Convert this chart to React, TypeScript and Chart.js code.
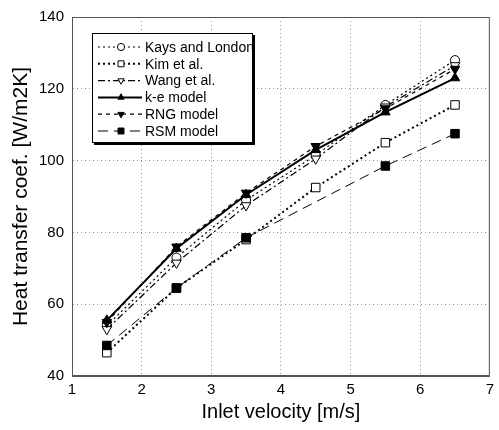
import React, { useEffect, useRef } from 'react';
import { Chart, registerables } from 'chart.js';
import { drawPoint } from 'chart.js/helpers';

Chart.register(...registerables);

const velocities = [1.5, 2.5, 3.5, 4.5, 5.5, 6.5];
const kaysLondon = [54, 73, 89, 101.5, 115.5, 128];
const kimEtAl = [46.5, 64.5, 78, 92.5, 105, 115.5];
const wangEtAl = [53, 71.5, 87.5, 100.5, 115, 126.5];
const keModel = [55.5, 75.5, 90.5, 103, 113.5, 123];
const rngModel = [55, 76, 91, 104, 114.5, 125.5];
const rsmModel = [48.5, 64.5, 78.5, 88.5, 98.5, 107.5];
const rsmMarkerShown = [true, true, true, false, true, true];

const seriesLabels = ['Kays and London', 'Kim et al.', 'Wang et al.', 'k-e model', 'RNG model', 'RSM model'];
const xTitle = 'Inlet velocity [m/s]';
const yTitle = 'Heat transfer coef. [W/m2K]';
const xRange = [1, 7];
const yRange = [40, 140];

const FONT = "'Liberation Sans', Arial, sans-serif";

const toPts = (ys: number[]) => ys.map((y, i) => ({ x: velocities[i], y }));

const frameAndLegend = {
  id: 'frameAndLegend',
  afterDraw(chart: any) {
    const ctx = chart.ctx;
    const a = chart.chartArea;
    ctx.save();
    ctx.strokeStyle = '#555';
    ctx.lineWidth = 1;
    ctx.setLineDash([]);
    ctx.strokeRect(a.left + 0.5, a.top + 0.5, a.right - a.left - 1, a.bottom - a.top - 1);

    const x0 = a.left + 20;
    const y0 = a.top + 16;
    const w = 161;
    const h = 110;
    ctx.fillStyle = '#000';
    ctx.fillRect(x0 + 2, y0 + 2, w, h);
    ctx.fillStyle = '#fff';
    ctx.fillRect(x0, y0, w, h);
    ctx.strokeStyle = '#000';
    ctx.strokeRect(x0 + 0.5, y0 + 0.5, w - 1, h - 1);

    ctx.font = `14px ${FONT}`;
    ctx.textBaseline = 'middle';
    ctx.textAlign = 'left';
    chart.data.datasets.forEach((ds: any, i: number) => {
      const cy = y0 + 14 + i * 16.8;
      ctx.strokeStyle = '#000';
      ctx.lineWidth = ds.borderWidth;
      ctx.setLineDash(ds.borderDash || []);
      ctx.beginPath();
      ctx.moveTo(x0 + 6, cy);
      ctx.lineTo(x0 + 50, cy);
      ctx.stroke();
      ctx.setLineDash([]);
      ctx.fillStyle = ds.pointBackgroundColor;
      ctx.strokeStyle = '#000';
      ctx.lineWidth = 1;
      const r = ds.pointStyle === 'rect' ? 4.2 : 3.6;
      drawPoint(ctx, { pointStyle: ds.pointStyle, rotation: ds.pointRotation || 0, radius: r, borderWidth: 1 }, x0 + 29, cy);
      ctx.fillStyle = '#000';
      ctx.fillText(ds.label, x0 + 53, cy + 1);
    });
    ctx.restore();
  },
};

export default function App() {
  const ref = useRef<HTMLCanvasElement>(null);
  useEffect(() => {
    document.body.style.margin = '0';
    const base = {
      borderColor: '#000',
      pointBorderColor: '#000',
      pointBorderWidth: 1,
      fill: false,
      tension: 0,
    };
    const chart = new Chart(ref.current!, {
      type: 'line',
      data: {
        datasets: [
          { ...base, label: seriesLabels[0], data: toPts(kaysLondon), borderWidth: 1.2, borderDash: [2, 3], pointStyle: 'circle', pointRadius: 4.5, pointBackgroundColor: '#fff', order: 4 },
          { ...base, label: seriesLabels[1], data: toPts(kimEtAl), borderWidth: 2, borderDash: [2, 3], pointStyle: 'rect', pointRadius: 6, pointBackgroundColor: '#fff', order: 5 },
          { ...base, label: seriesLabels[2], data: toPts(wangEtAl), borderWidth: 1.2, borderDash: [7, 3, 2, 3], pointStyle: 'triangle', pointRotation: 180, pointRadius: 5.5, pointBackgroundColor: '#fff', order: 3 },
          { ...base, label: seriesLabels[3], data: toPts(keModel), borderWidth: 2, borderDash: [], pointStyle: 'triangle', pointRadius: 5.5, pointBackgroundColor: '#000', order: 1 },
          { ...base, label: seriesLabels[4], data: toPts(rngModel), borderWidth: 1.2, borderDash: [4, 4], pointStyle: 'triangle', pointRotation: 180, pointRadius: 5.5, pointBackgroundColor: '#000', order: 2 },
          { ...base, label: seriesLabels[5], data: toPts(rsmModel), borderWidth: 1, borderDash: [10, 6], pointStyle: 'rect', pointBackgroundColor: '#000', pointRadius: rsmMarkerShown.map((s) => (s ? 6 : 0)), order: 0 },
        ] as any,
      },
      options: {
        responsive: false,
        animation: false,
        layout: { padding: { top: 16, right: 9, left: 0, bottom: 0 } },
        plugins: { legend: { display: false }, tooltip: { enabled: false } },
        scales: {
          x: {
            type: 'linear',
            min: xRange[0],
            max: xRange[1],
            afterFit: (s: any) => { s.height = 54; },
            ticks: { stepSize: 1, color: '#000', padding: 5, font: { family: FONT, size: 15 } },
            grid: { color: '#999', drawTicks: false, lineWidth: 1 },
            border: { color: '#555', dash: [1, 3] },
            title: { display: true, text: xTitle, color: '#000', font: { family: FONT, size: 20 }, padding: { top: 0, bottom: 6 } },
          },
          y: {
            type: 'linear',
            min: yRange[0],
            max: yRange[1],
            afterFit: (s: any) => { s.width = 72; },
            ticks: { stepSize: 20, color: '#000', padding: 8, font: { family: FONT, size: 15 } },
            grid: { color: '#999', drawTicks: false, lineWidth: 1 },
            border: { color: '#555', dash: [1, 3] },
            title: { display: true, text: yTitle, color: '#000', font: { family: FONT, size: 21 }, padding: { top: 9, bottom: 0 } },
          },
        },
      },
      plugins: [frameAndLegend],
    });
    return () => chart.destroy();
  }, []);
  return (
    <div style={{ width: 499, height: 430, background: '#fff' }}>
      <canvas ref={ref} width={499} height={430} />
    </div>
  );
}
